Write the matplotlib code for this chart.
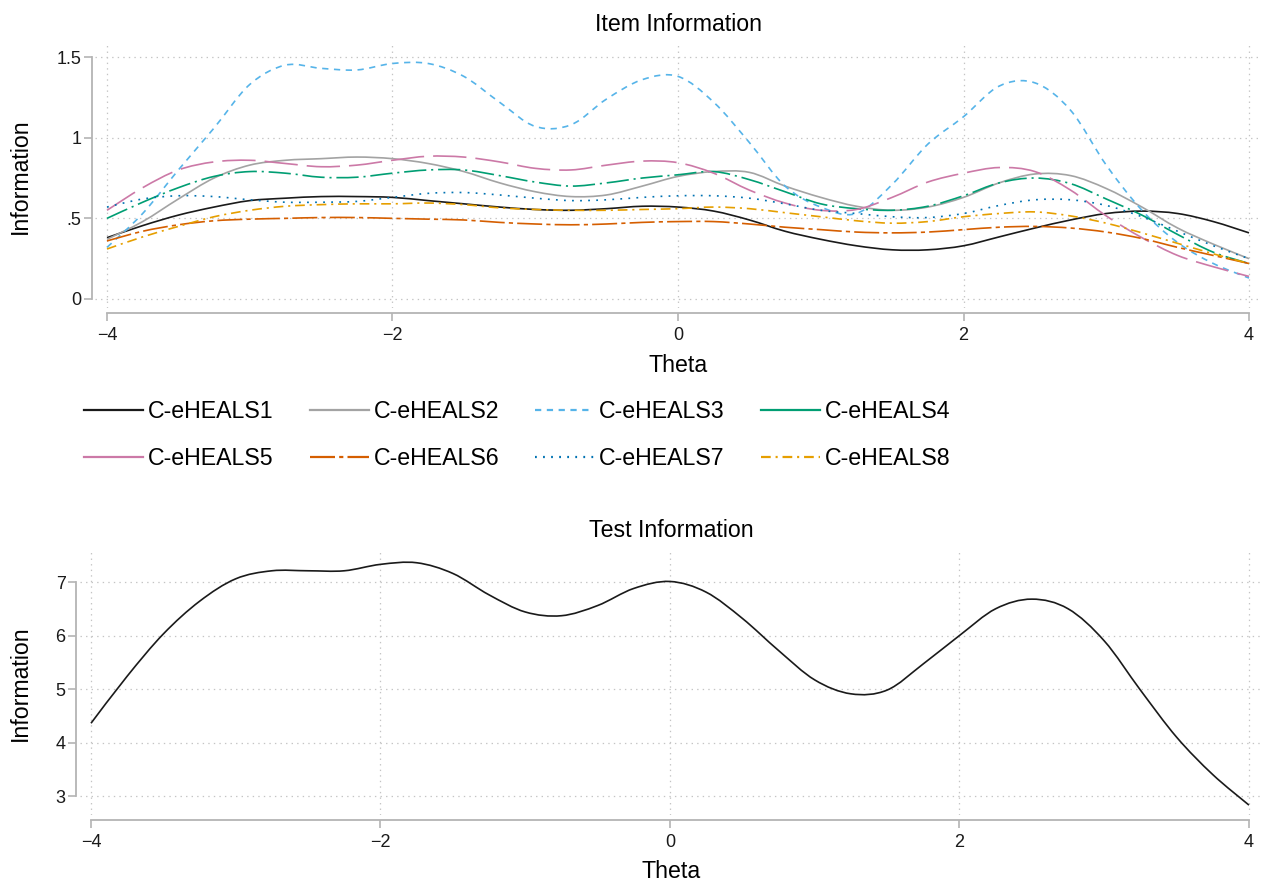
#!/usr/bin/env python3

import numpy as np
import matplotlib
matplotlib.use('Agg')
from matplotlib import pyplot as plt
from matplotlib.lines import Line2D
from matplotlib.path import Path
from matplotlib.patches import PathPatch

# theta grid the curves were read on
theta = [-4.0, -3.75, -3.5, -3.25, -3.0, -2.75, -2.5, -2.25, -2.0, -1.75, -1.5,
         -1.25, -1.0, -0.75, -0.5, -0.25, 0.0, 0.25, 0.5, 0.75, 1.0, 1.25, 1.5,
         1.75, 2.0, 2.25, 2.5, 2.75, 3.0, 3.25, 3.5, 3.75, 4.0]

item_names = ['C-eHEALS1', 'C-eHEALS2', 'C-eHEALS3', 'C-eHEALS4',
              'C-eHEALS5', 'C-eHEALS6', 'C-eHEALS7', 'C-eHEALS8']

item1 = [.38, .455, .52, .57, .61, .625, .635, .635, .63, .61, .59, .57, .555,
         .55, .56, .575, .57, .545, .49, .42, .37, .33, .305, .305, .33, .385,
         .44, .49, .53, .545, .53, .48, .41]
item2 = [.37, .48, .62, .75, .83, .86, .87, .88, .87, .84, .79, .72, .665,
         .635, .645, .70, .76, .79, .785, .70, .63, .575, .55, .57, .63, .72,
         .775, .765, .685, .57, .44, .34, .25]
item3 = [.32, .53, .80, 1.06, 1.33, 1.45, 1.43, 1.42, 1.46, 1.46, 1.38, 1.22,
         1.07, 1.08, 1.24, 1.36, 1.38, 1.22, .97, .70, .57, .53, .71, .96,
         1.13, 1.32, 1.34, 1.17, .83, .55, .35, .22, .13]
item4 = [.50, .60, .69, .76, .79, .78, .755, .755, .78, .80, .80, .765, .725,
         .70, .72, .75, .77, .79, .74, .665, .59, .56, .55, .575, .64, .72,
         .75, .715, .62, .52, .40, .29, .22]
item5 = [.55, .69, .80, .85, .86, .84, .82, .83, .86, .885, .88, .85, .81,
         .80, .83, .855, .845, .78, .675, .595, .55, .555, .63, .725, .78,
         .815, .79, .675, .515, .38, .27, .20, .14]
item6 = [.36, .42, .46, .485, .495, .50, .505, .505, .50, .495, .49, .475,
         .465, .46, .465, .475, .48, .48, .465, .445, .43, .415, .41, .415,
         .43, .445, .45, .44, .415, .375, .32, .27, .22]
item7 = [.57, .62, .64, .635, .615, .60, .60, .605, .63, .655, .66, .645,
         .625, .61, .615, .63, .64, .64, .625, .59, .55, .53, .51, .505, .53,
         .58, .615, .615, .58, .51, .42, .33, .25]
item8 = [.31, .385, .45, .51, .55, .575, .585, .59, .59, .595, .585, .565,
         .555, .55, .55, .555, .56, .57, .56, .535, .51, .485, .47, .48, .51,
         .53, .54, .515, .47, .41, .345, .28, .22]

test_info = [4.36, 5.24, 6.03, 6.64, 7.06, 7.21, 7.21, 7.21, 7.33, 7.36,
             7.16, 6.76, 6.44, 6.37, 6.56, 6.88, 7.01, 6.81, 6.32, 5.72, 5.17,
             4.91, 4.98, 5.47, 6.00, 6.50, 6.68, 6.50, 5.90, 4.98, 4.10, 3.40,
             2.83]

x_ticks = [-4, -2, 0, 2, 4]
x_labels = ['\u22124', '\u22122', '0', '2', '4']
item_yticks = [0, 0.5, 1, 1.5]
item_ylabels = ['0', '.5', '1', '1.5']
test_yticks = [3, 4, 5, 6, 7]
test_ylabels = ['3', '4', '5', '6', '7']

colors = ['#1a1a1a', '#a3a3a3', '#56b4e9', '#009e73',
          '#cc79a7', '#d55e00', '#0072b2', '#e69f00']
# dash patterns in points (scale_dashes off)
styles = ['-', '-', (0, (4.5, 4)), (0, (16, 3.5, 1.5, 3.5)),
          (0, (24, 6.5)), (0, (18, 3, 3, 3)), (0, (1.3, 4.5)),
          (0, (7, 3.5, 1.5, 3.5))]
legend_styles = ['-', '-', (0, (4.5, 4)), '-', '-',
                 (0, (18, 3, 3, 3)), (0, (1.3, 4.5)), (0, (7, 3.5, 1.5, 3.5))]

W, H = 1266, 886
AXIS_GREY = '#b4b4b4'
BIG = 16.7
SMALL = 13


def smooth_line(ax, xs, ys, **kw):
    # draw a smooth curve through the read points (catmull-rom as beziers)
    x = np.asarray(xs, float)
    y = np.asarray(ys, float)
    pts = np.column_stack([x, y])
    ext = np.vstack([pts[0], pts, pts[-1]])
    verts = [pts[0]]
    codes = [Path.MOVETO]
    for i in range(len(pts) - 1):
        p0, p1, p2, p3 = ext[i], ext[i + 1], ext[i + 2], ext[i + 3]
        verts += [p1 + (p2 - p0) / 6.0, p2 - (p3 - p1) / 6.0, p2]
        codes += [Path.CURVE4] * 3
    patch = PathPatch(Path(verts, codes), fill=False, capstyle='butt',
                      joinstyle='round', **kw)
    ax.add_patch(patch)
    return patch


def style_axes(ax, yticks, ylabels, left_out, title, title_pad, xlab_y):
    for s in ['top', 'right']:
        ax.spines[s].set_visible(False)
    ax.spines['left'].set_position(('outward', left_out))
    ax.spines['bottom'].set_position(('outward', 3.6))
    ax.spines['left'].set_bounds(yticks[0], yticks[-1])
    ax.spines['bottom'].set_bounds(x_ticks[0], x_ticks[-1])
    for s in ['left', 'bottom']:
        ax.spines[s].set_color(AXIS_GREY)
        ax.spines[s].set_linewidth(1.3)
    ax.set_xticks(x_ticks)
    ax.set_xticklabels(x_labels)
    ax.set_yticks(yticks)
    ax.set_yticklabels(ylabels)
    ax.tick_params(axis='both', length=6, width=1.2, color=AXIS_GREY,
                   labelsize=SMALL, labelcolor='#1a1a1a')
    ax.tick_params(axis='x', pad=4)
    ax.tick_params(axis='y', pad=1.5)
    ax.grid(True, color='#c4c4c4', linewidth=0.9, linestyle=(0, (1, 3)))
    ax.set_axisbelow(True)
    ax.set_title(title, fontsize=BIG, pad=title_pad)
    ax.set_xlabel('Theta', fontsize=BIG)
    ax.set_ylabel('Information', fontsize=BIG)
    ax.xaxis.label.set_va('center')
    ax.yaxis.label.set_va('center')
    ax.xaxis.set_label_coords(0.5, xlab_y)


def main():
    plt.rcParams['font.family'] = ['Liberation Sans', 'DejaVu Sans']
    plt.rcParams['lines.scale_dashes'] = False
    plt.rcParams['axes.unicode_minus'] = True

    fig = plt.figure(figsize=(W / 100, H / 100), dpi=100)

    # item information panel
    ax1 = fig.add_axes([95 / W, 1 - 308 / H, 1167 / W, 263 / H])
    items = [item1, item2, item3, item4, item5, item6, item7, item8]
    for vals, c, ls in zip(items, colors, styles):
        smooth_line(ax1, theta, vals, edgecolor=c, linestyle=ls, linewidth=1.2)
    ax1.set_xlim(-4.084, 4.091)
    ax1.set_ylim(-0.0558, 1.5747)
    style_axes(ax1, item_yticks, item_ylabels, 2.2, 'Item Information', 10,
               (308 - 366) / 263)
    ax1.yaxis.set_label_coords((20 - 95) / 1167, 0.5)

    # legend below the item panel, filled row by row like the original
    handles = [Line2D([], [], color=c, linestyle=ls, linewidth=1.6)
               for c, ls in zip(colors, legend_styles)]
    order = [0, 4, 1, 5, 2, 6, 3, 7]
    fig.legend([handles[i] for i in order], [item_names[i] for i in order],
               loc='upper left', ncol=4,
               bbox_to_anchor=(84 / W, 1 - 400 / H), frameon=False,
               fontsize=BIG, handlelength=2.54, handletextpad=0.22,
               columnspacing=1.55, labelspacing=1.02, borderpad=0,
               borderaxespad=0)

    # test information panel
    ax2 = fig.add_axes([80 / W, 1 - 815 / H, 1182 / W, 263 / H])
    smooth_line(ax2, theta, test_info, edgecolor='#1a1a1a', linewidth=1.2)
    ax2.set_xlim(-4.076, 4.090)
    ax2.set_ylim(2.645, 7.561)
    style_axes(ax2, test_yticks, test_ylabels, 2.9, 'Test Information', 10.8,
               (815 - 871) / 263)
    ax2.yaxis.set_label_coords((20 - 80) / 1182, 0.5)

    fig.savefig('out.png', dpi=100, facecolor='white')


if '__main__' == __name__:
    main()
